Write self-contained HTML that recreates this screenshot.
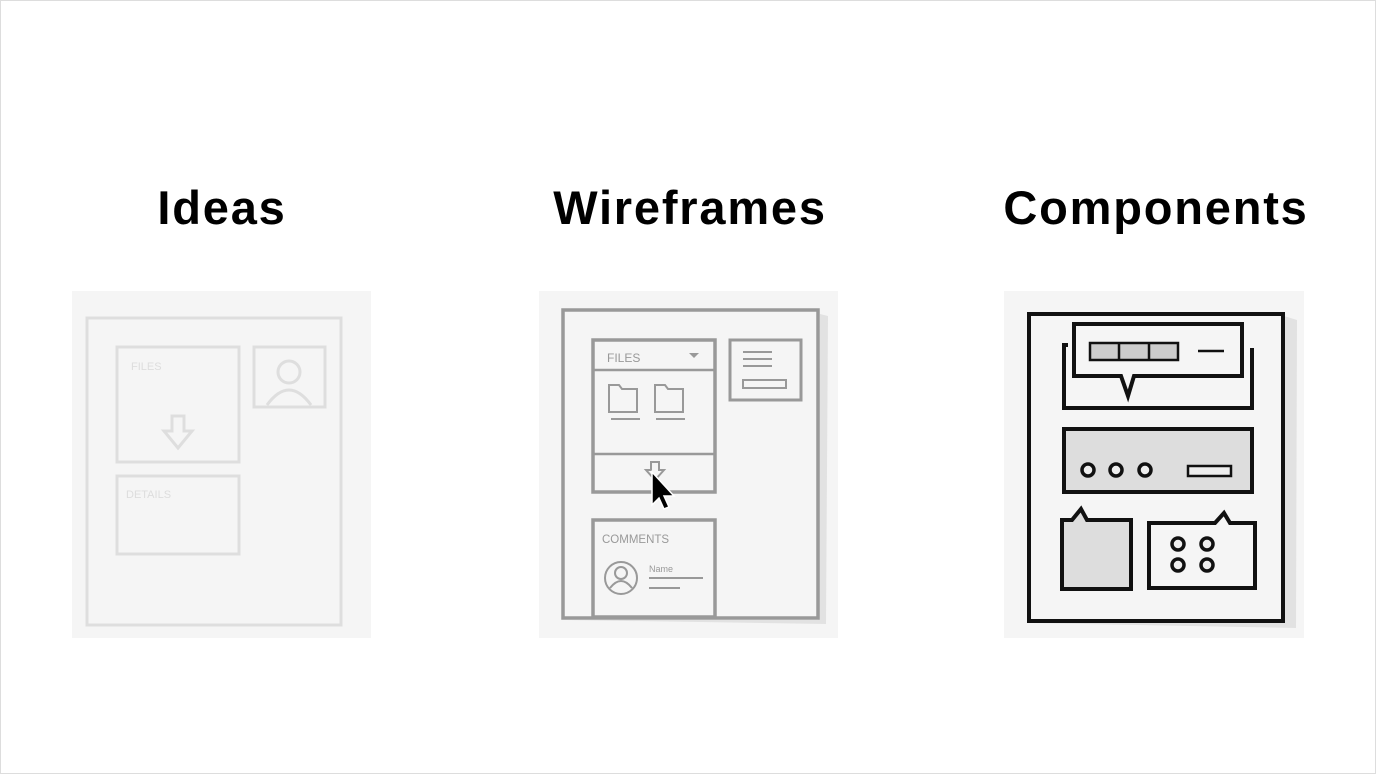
<!DOCTYPE html>
<html><head><style>
html,body{margin:0;padding:0;background:#fff}
body{width:1376px;height:774px;overflow:hidden;position:relative}
.t{position:absolute;top:180px;font:bold 47px "Liberation Sans",sans-serif;color:#000;text-align:center;width:400px;letter-spacing:1.8px}
</style></head><body>
<div style="position:absolute;left:0;top:0;width:1374px;height:772px;border:1px solid #ddd"></div>
<div class="t" style="left:22px">Ideas</div>
<div class="t" style="left:490px">Wireframes</div>
<div class="t" style="left:956px">Components</div>
<svg width="1376" height="774" style="position:absolute;left:0;top:0" font-family="Liberation Sans, sans-serif">
<!-- Ideas -->
<rect x="72" y="291" width="299" height="347" fill="#f5f5f5"/>
<g fill="none" stroke="#dedede" stroke-width="3">
<rect x="87" y="318" width="254" height="307"/>
<rect x="117" y="347" width="122" height="115"/>
<rect x="254" y="347" width="71" height="60"/>
<rect x="117" y="476" width="122" height="78"/>
<circle cx="289" cy="372" r="11"/>
<path d="M267 405 q22-30 44 0"/>
<path d="M172 416 h12 v15 h8 l-14 17 l-14-17 h8z"/>
</g>
<text x="131" y="370" font-size="11" fill="#ddd">FILES</text>
<text x="126" y="498" font-size="11" fill="#ddd">DETAILS</text>
<!-- Wireframes -->
<rect x="539" y="291" width="299" height="347" fill="#f5f5f5"/>
<path d="M567 620 L826 624 L828 316 L820 314 L818 620z" fill="#e2e2e2"/>
<g fill="none" stroke="#999" stroke-width="3.5">
<rect x="563" y="310" width="255" height="308" fill="#f5f5f5"/>
<rect x="593" y="340" width="122" height="152"/>
<line x1="593" y1="370" x2="715" y2="370" stroke-width="2.5"/>
<line x1="593" y1="454" x2="715" y2="454" stroke-width="2.5"/>
<rect x="730" y="340" width="71" height="60" stroke-width="3"/>
<rect x="593" y="520" width="122" height="97"/>
</g>
<g fill="none" stroke="#999" stroke-width="2">
<line x1="743" y1="352" x2="772" y2="352"/><line x1="743" y1="359" x2="772" y2="359"/><line x1="743" y1="366" x2="772" y2="366"/>
<rect x="743" y="380" width="43" height="8"/>
<path d="M609 385 h10 l3 4 h15 v23 h-28z"/><path d="M655 385 h10 l3 4 h15 v23 h-28z"/>
<line x1="611" y1="419" x2="640" y2="419"/><line x1="656" y1="419" x2="685" y2="419"/>
<circle cx="621" cy="578" r="16"/><circle cx="621" cy="573" r="6"/><path d="M610 588 q11-14 22 0"/>
<line x1="649" y1="578" x2="703" y2="578"/><line x1="649" y1="588" x2="680" y2="588"/>
<path d="M651 462 h8 v8 h5 l-9 10 l-9-10 h5z"/>
</g>
<path d="M689 353 h10 l-5 5z" fill="#999"/>
<text x="607" y="362" font-size="12" fill="#999">FILES</text>
<text x="602" y="543" font-size="11.5" fill="#999">COMMENTS</text>
<text x="649" y="572" font-size="9" fill="#999">Name</text>
<path d="M652 472 v33 l7-7 l5 11 l5-2 l-5-11 h10z" fill="#000" stroke="#fff" stroke-width="1.5"/>
<!-- Components -->
<rect x="1004" y="291" width="300" height="347" fill="#f5f5f5"/>
<path d="M1033 623 L1296 628 L1297 320 L1284 316 L1283 622z" fill="#e2e2e2"/>
<g stroke="#111" stroke-width="4" fill="none">
<rect x="1029" y="314" width="254" height="307" fill="#f5f5f5"/>
<path d="M1068 345 h-4 v63 h188 v-60"/>
<path d="M1074 324 h168 v52 h-108 l-6 20 l-7-20 h-47z" fill="#f5f5f5"/>
<rect x="1064" y="429" width="188" height="63" fill="#ddd"/>
<path d="M1062 520 h10 l9-11 l6 11 h44 v69 h-69z" fill="#ddd"/>
<path d="M1149 523 h66 l9-10 l6 10 h25 v65 h-106z" fill="#f5f5f5"/>
</g>
<g stroke="#111" stroke-width="2.5">
<rect x="1090" y="343" width="88" height="17" fill="#ccc"/>
<line x1="1119" y1="343" x2="1119" y2="360"/><line x1="1149" y1="343" x2="1149" y2="360"/>
<line x1="1198" y1="351" x2="1224" y2="351"/>
<rect x="1188" y="466" width="43" height="10" fill="#eee"/>
</g>
<g stroke="#111" stroke-width="3.5" fill="#eee">
<circle cx="1088" cy="470" r="6"/><circle cx="1116" cy="470" r="6"/><circle cx="1145" cy="470" r="6"/>
<circle cx="1178" cy="544" r="6"/><circle cx="1207" cy="544" r="6"/><circle cx="1178" cy="565" r="6"/><circle cx="1207" cy="565" r="6"/>
</g>
</svg>
</body></html>
